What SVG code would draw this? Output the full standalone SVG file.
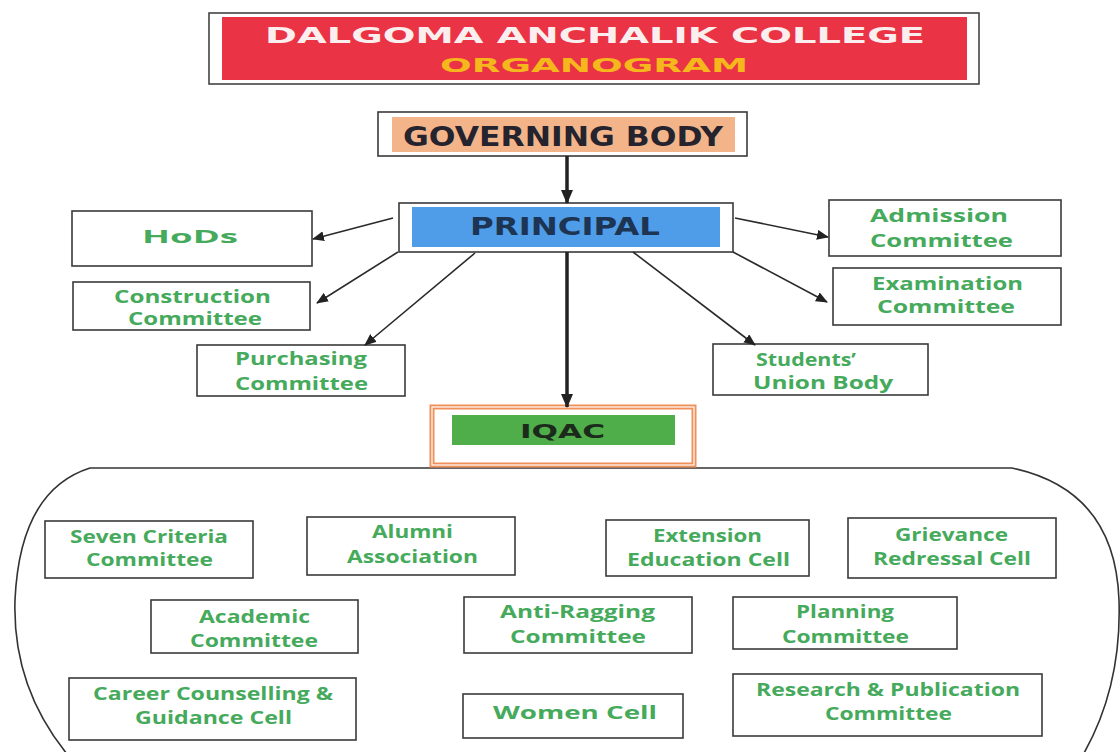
<svg xmlns="http://www.w3.org/2000/svg" width="1120" height="752" viewBox="0 0 1120 752">
<defs>
<marker id="ah" markerUnits="userSpaceOnUse" markerWidth="12" markerHeight="10" refX="11" refY="5" orient="auto">
<path d="M0,0 L12,5 L0,10 z" fill="#222"/>
</marker>
<marker id="ahb" markerUnits="userSpaceOnUse" markerWidth="14" markerHeight="12" refX="13" refY="6" orient="auto">
<path d="M0,0 L14,6 L0,12 z" fill="#222"/>
</marker>
<style>
.box{fill:#fff;stroke:#3a3a3a;stroke-width:1.6}
.lbl{font-family:"Open Sans","Liberation Sans",sans-serif;font-weight:bold;fill:#46aa5c;font-size:17px}
.hd{font-family:"DejaVu Sans","Liberation Sans",sans-serif;font-weight:bold}
.conn{stroke:#2a2a2a;stroke-width:1.6;fill:none;marker-end:url(#ah)}
.connb{stroke:#222;stroke-width:3.5;fill:none;marker-end:url(#ahb)}
</style>
</defs>
<rect width="1120" height="752" fill="#fff"/>

<g id="title">
<rect x="209" y="13" width="770" height="71" fill="#fff" stroke="#444" stroke-width="1.6"/>
<rect x="222" y="17" width="745" height="63" fill="#ea3344"/>
<text class="hd" x="265" y="43" font-size="21" fill="#fbeeee" textLength="660" lengthAdjust="spacingAndGlyphs">DALGOMA ANCHALIK COLLEGE</text>
<text class="hd" x="440" y="72" font-size="20" fill="#f6b71c" textLength="308" lengthAdjust="spacingAndGlyphs">ORGANOGRAM</text>
</g>

<g id="governing-body">
<rect class="box" x="378" y="112" width="369" height="44"/>
<rect x="392" y="117" width="343" height="35" fill="#f4b48a"/>
<text class="hd" x="403" y="146" font-size="26" fill="#24232e" textLength="320" lengthAdjust="spacingAndGlyphs">GOVERNING BODY</text>
</g>

<g id="principal">
<rect class="box" x="399" y="203" width="334" height="49"/>
<rect x="412" y="207" width="308" height="40" fill="#4f9de8"/>
<text class="hd" x="470" y="235" font-size="24" fill="#1d3453" textLength="190" lengthAdjust="spacingAndGlyphs">PRINCIPAL</text>
</g>

<g id="hods">
<rect class="box" x="72" y="211" width="240" height="55"/>
<text class="lbl" x="142" y="243" font-size="28" textLength="96" lengthAdjust="spacingAndGlyphs">HoDs</text>
</g>

<g id="construction">
<rect class="box" x="73" y="282" width="237" height="48"/>
<text class="lbl" x="114" y="303" textLength="157" lengthAdjust="spacingAndGlyphs">Construction</text>
<text class="lbl" x="128" y="325" textLength="134" lengthAdjust="spacingAndGlyphs">Committee</text>
</g>

<g id="purchasing">
<rect class="box" x="197" y="345" width="208" height="51"/>
<text class="lbl" x="235" y="365" textLength="132" lengthAdjust="spacingAndGlyphs">Purchasing</text>
<text class="lbl" x="235" y="390" textLength="133" lengthAdjust="spacingAndGlyphs">Committee</text>
</g>

<g id="admission">
<rect class="box" x="829" y="200" width="232" height="56"/>
<text class="lbl" x="870" y="222" textLength="138" lengthAdjust="spacingAndGlyphs">Admission</text>
<text class="lbl" x="870" y="247" textLength="143" lengthAdjust="spacingAndGlyphs">Committee</text>
</g>

<g id="examination">
<rect class="box" x="833" y="268" width="228" height="57"/>
<text class="lbl" x="872" y="290" textLength="151" lengthAdjust="spacingAndGlyphs">Examination</text>
<text class="lbl" x="877" y="313" textLength="138" lengthAdjust="spacingAndGlyphs">Committee</text>
</g>

<g id="students-union">
<rect class="box" x="713" y="344" width="215" height="51"/>
<text class="lbl" x="756" y="366" font-size="18" textLength="100" lengthAdjust="spacingAndGlyphs">Students’</text>
<text class="lbl" x="753" y="389" textLength="140" lengthAdjust="spacingAndGlyphs">Union Body</text>
</g>

<g id="iqac-group-outline">
<path d="M1080 760 Q1122 690 1119 600 Q1115 490 1012 468 L90 468 Q20 490 15 600 Q12 690 72 760" fill="none" stroke="#333" stroke-width="1.6"/>
</g>

<g id="iqac">
<rect x="432" y="407" width="262" height="58" fill="#fff" stroke="#f0905a" stroke-width="5"/>
<rect x="432" y="407" width="262" height="58" fill="none" stroke="#fff" stroke-width="1.2"/>
<rect x="452" y="415" width="223" height="30" fill="#4fae4a"/>
<text class="hd" x="520" y="438" font-size="20" fill="#1c2a1c" textLength="85" lengthAdjust="spacingAndGlyphs">IQAC</text>
</g>

<g id="seven-criteria">
<rect class="box" x="45" y="521" width="208" height="57"/>
<text class="lbl" x="70" y="543" textLength="158" lengthAdjust="spacingAndGlyphs">Seven Criteria</text>
<text class="lbl" x="86" y="566" textLength="127" lengthAdjust="spacingAndGlyphs">Committee</text>
</g>

<g id="alumni">
<rect class="box" x="307" y="517" width="208" height="58"/>
<text class="lbl" x="372" y="538" textLength="81" lengthAdjust="spacingAndGlyphs">Alumni</text>
<text class="lbl" x="347" y="563" textLength="131" lengthAdjust="spacingAndGlyphs">Association</text>
</g>

<g id="extension">
<rect class="box" x="606" y="520" width="203" height="56"/>
<text class="lbl" x="653" y="542" textLength="109" lengthAdjust="spacingAndGlyphs">Extension</text>
<text class="lbl" x="627" y="566" textLength="163" lengthAdjust="spacingAndGlyphs">Education Cell</text>
</g>

<g id="grievance">
<rect class="box" x="848" y="518" width="208" height="60"/>
<text class="lbl" x="895" y="541" textLength="113" lengthAdjust="spacingAndGlyphs">Grievance</text>
<text class="lbl" x="873" y="565" textLength="158" lengthAdjust="spacingAndGlyphs">Redressal Cell</text>
</g>

<g id="academic">
<rect class="box" x="151" y="600" width="207" height="53"/>
<text class="lbl" x="199" y="623" textLength="111" lengthAdjust="spacingAndGlyphs">Academic</text>
<text class="lbl" x="190" y="647" textLength="128" lengthAdjust="spacingAndGlyphs">Committee</text>
</g>

<g id="anti-ragging">
<rect class="box" x="464" y="597" width="228" height="56"/>
<text class="lbl" x="500" y="618" textLength="155" lengthAdjust="spacingAndGlyphs">Anti-Ragging</text>
<text class="lbl" x="510" y="643" textLength="136" lengthAdjust="spacingAndGlyphs">Committee</text>
</g>

<g id="planning">
<rect class="box" x="733" y="597" width="224" height="52"/>
<text class="lbl" x="796" y="618" textLength="98" lengthAdjust="spacingAndGlyphs">Planning</text>
<text class="lbl" x="782" y="643" textLength="127" lengthAdjust="spacingAndGlyphs">Committee</text>
</g>

<g id="career">
<rect class="box" x="69" y="678" width="287" height="62"/>
<text class="lbl" x="93" y="700" textLength="240" lengthAdjust="spacingAndGlyphs">Career Counselling &amp;</text>
<text class="lbl" x="135" y="724" textLength="157" lengthAdjust="spacingAndGlyphs">Guidance Cell</text>
</g>

<g id="women-cell">
<rect class="box" x="463" y="694" width="220" height="44"/>
<text class="lbl" x="493" y="719" font-size="21" textLength="164" lengthAdjust="spacingAndGlyphs">Women Cell</text>
</g>

<g id="research">
<rect class="box" x="733" y="674" width="309" height="62"/>
<text class="lbl" x="756" y="696" textLength="264" lengthAdjust="spacingAndGlyphs">Research &amp; Publication</text>
<text class="lbl" x="825" y="720" textLength="127" lengthAdjust="spacingAndGlyphs">Committee</text>
</g>

<g id="connectors">
<line class="connb" x1="567" y1="156" x2="567" y2="203"/>
<line class="connb" x1="567" y1="252" x2="567" y2="407"/>
<line class="conn" x1="393" y1="218" x2="313" y2="239"/>
<line class="conn" x1="398" y1="252" x2="317" y2="303"/>
<line class="conn" x1="475" y1="253" x2="365" y2="345"/>
<line class="conn" x1="735" y1="218" x2="828" y2="237"/>
<line class="conn" x1="733" y1="252" x2="827" y2="302"/>
<line class="conn" x1="633" y1="252" x2="755" y2="345"/>
</g>
</svg>
